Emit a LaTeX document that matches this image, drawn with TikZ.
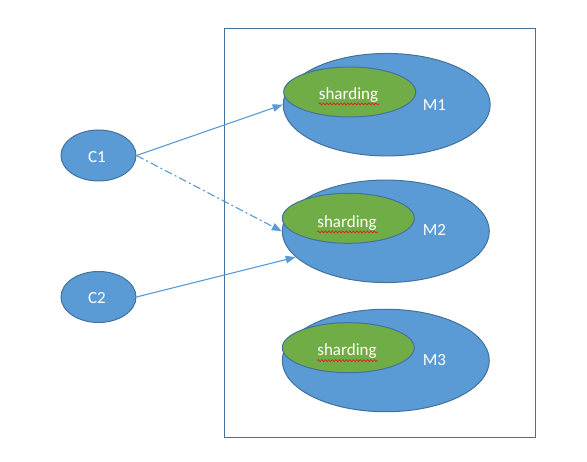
\documentclass[tikz,border=0pt]{standalone}
\usepackage{fontspec}
\setmainfont{Carlito}
\usetikzlibrary{shapes.geometric,arrows.meta,decorations.pathmorphing}
\definecolor{fillblue}{HTML}{5B9BD5}
\definecolor{edgeblue}{HTML}{41719C}
\definecolor{fillgreen}{HTML}{70AD47}
\definecolor{squig}{HTML}{E02020}
\tikzset{
  blueell/.style={ellipse, draw=edgeblue, fill=fillblue, line width=1pt, inner sep=0pt},
  greenell/.style={ellipse, draw=edgeblue, fill=fillgreen, line width=1pt, inner sep=0pt, minimum width=132pt, minimum height=50pt},
  machine/.style={blueell, minimum width=207pt, minimum height=102.5pt},
  client/.style={blueell, minimum width=75pt, minimum height=51pt},
  lbl/.style={text=white, font=\fontsize{17}{19}\selectfont, anchor=base, inner sep=0pt},
  conn/.style={draw=fillblue, line width=1.1pt, -{Triangle[length=10pt,width=7.5pt]}},
  wavy/.style={draw=squig, line width=0.7pt, decorate, decoration={snake, segment length=3.5pt, amplitude=1pt}}
}
\begin{document}
\begin{tikzpicture}[x=1pt,y=-1pt]
\useasboundingbox (0,0) rectangle (587,462);
\node[draw=edgeblue, fill=white, line width=1pt, inner sep=0pt, minimum width=311pt, minimum height=409pt] (frame) at (379.7,232.8) {};
% machines
\node[machine] (m1) at (386.7,104.7) {};
\node[machine] (m2) at (385.8,231.3) {};
\node[machine] (m3) at (385.8,360.5) {};
\node[greenell] (g1) at (349.7,92) {};
\node[greenell] (g2) at (348.3,218.3) {};
\node[greenell] (g3) at (348.3,347.7) {};
\node[lbl] (s1) at (348.5,99.3) {sharding};
\node[lbl] (s2) at (347,227.3) {sharding};
\node[lbl] (s3) at (347,356) {sharding};
\draw[wavy] (s1.south west) ++(0,1.5) coordinate (w1a) -- ++(61,0) coordinate (w1b);
\draw[wavy] (s2.south west) ++(0,1.5) coordinate (w2a) -- ++(61,0) coordinate (w2b);
\draw[wavy] (s3.south west) ++(0,1.5) coordinate (w3a) -- ++(61,0) coordinate (w3b);
\node[lbl] (l1) at (434.5,110.7) {M1};
\node[lbl] (l2) at (434.5,236) {M2};
\node[lbl] (l3) at (434.5,366) {M3};
% clients
\node[client] (c1) at (98.5,155.5) {};
\node[client] (c2) at (98.5,297) {};
\node[lbl] (lc1) at (97,162.3) {C1};
\node[lbl] (lc2) at (97,303.3) {C2};
% connectors
\draw[conn] (c1.east) -- (m1.west);
\draw[conn, dash pattern=on 8pt off 3pt on 2pt off 3pt] (c1.east) -- (m2.west);
\draw[conn] (c2.east) -- (m2.196);
\end{tikzpicture}
\end{document}
